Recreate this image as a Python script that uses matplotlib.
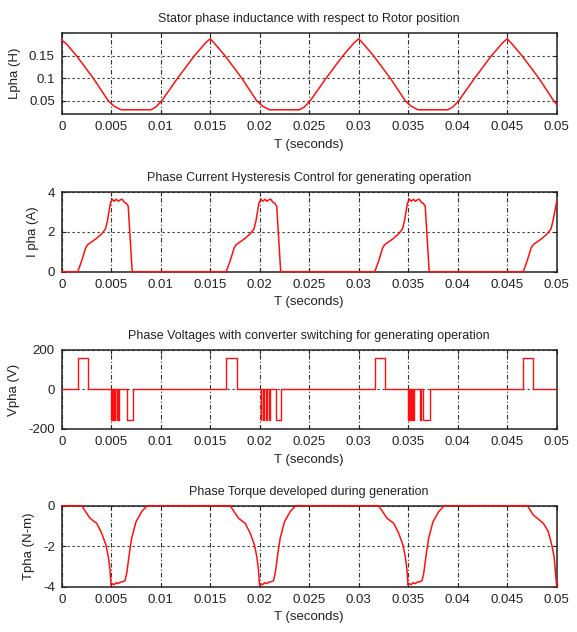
import matplotlib
matplotlib.use("Agg")
import matplotlib.pyplot as plt

plt.rcParams['font.family'] = ['Liberation Sans Narrow', 'Liberation Sans', 'DejaVu Sans']
plt.rcParams['axes.unicode_minus'] = False

# ---------------- data ----------------
xticks = [0, 0.005, 0.01, 0.015, 0.02, 0.025, 0.03, 0.035, 0.04, 0.045, 0.05]
xticklabels = ["0", "0.005", "0.01", "0.015", "0.02", "0.025", "0.03", "0.035", "0.04", "0.045", "0.05"]

titles = ["Stator phase inductance with respect to Rotor position",
          "Phase Current Hysteresis Control for generating operation",
          "Phase Voltages with converter switching for generating operation",
          "Phase Torque developed during generation"]
ylabels = ["Lpha (H)", "I pha (A)", "Vpha (V)", "Tpha (N-m)"]
xlabel = "T (seconds)"

# inductance
L_t = [0.0, 0.0005, 0.0015, 0.0032, 0.0047, 0.0053, 0.006, 0.009, 0.0095, 0.0101, 0.0117, 0.0134, 0.0145, 0.015,
       0.0155, 0.0165, 0.0182, 0.0197, 0.0203, 0.021, 0.024, 0.0245, 0.0251, 0.0267, 0.0284, 0.0295, 0.030,
       0.0305, 0.0315, 0.0332, 0.0347, 0.0353, 0.036, 0.039, 0.0395, 0.0401, 0.0417, 0.0434, 0.0445, 0.045,
       0.0455, 0.0465, 0.0482, 0.0497, 0.05]
L_v = [0.185, 0.176, 0.150, 0.100, 0.050, 0.038, 0.030, 0.030, 0.036, 0.050, 0.100, 0.150, 0.178, 0.188,
       0.176, 0.150, 0.100, 0.050, 0.038, 0.030, 0.030, 0.036, 0.050, 0.100, 0.150, 0.178, 0.188,
       0.176, 0.150, 0.100, 0.050, 0.038, 0.030, 0.030, 0.036, 0.050, 0.100, 0.150, 0.178, 0.188,
       0.176, 0.150, 0.100, 0.050, 0.042]
L_yticks = [0.05, 0.1, 0.15]
L_ylim = [0.02, 0.2]

# current
I_t = [0.0,
       0.00162, 0.00202, 0.00242, 0.00262, 0.00302, 0.00352, 0.00402, 0.00442, 0.00462, 0.00492,
       0.00512, 0.00532, 0.00552, 0.00572, 0.00592, 0.00612, 0.00632, 0.00652, 0.00672, 0.00712,
       0.01662, 0.01702, 0.01742, 0.01762, 0.01802, 0.01852, 0.01902, 0.01942, 0.01962, 0.01992,
       0.02012, 0.02032, 0.02052, 0.02072, 0.02092, 0.02112, 0.02132, 0.02152, 0.02172, 0.02212,
       0.03162, 0.03202, 0.03242, 0.03262, 0.03302, 0.03352, 0.03402, 0.03442, 0.03462, 0.03492,
       0.03512, 0.03532, 0.03552, 0.03572, 0.03592, 0.03612, 0.03632, 0.03652, 0.03672, 0.03712,
       0.04662, 0.04702, 0.04742, 0.04762, 0.04802, 0.04852, 0.04902, 0.04942, 0.04962, 0.05]
I_v = [0.0,
       0, 0.55, 1.2, 1.36, 1.5, 1.68, 1.9, 2.15, 2.55, 3.45,
       3.65, 3.55, 3.65, 3.55, 3.62, 3.65, 3.5, 3.45, 3.3, 0,
       0, 0.55, 1.2, 1.36, 1.5, 1.68, 1.9, 2.15, 2.55, 3.45,
       3.65, 3.55, 3.65, 3.55, 3.62, 3.65, 3.5, 3.45, 3.3, 0,
       0, 0.55, 1.2, 1.36, 1.5, 1.68, 1.9, 2.15, 2.55, 3.45,
       3.65, 3.55, 3.65, 3.55, 3.62, 3.65, 3.5, 3.45, 3.3, 0,
       0, 0.55, 1.2, 1.36, 1.5, 1.68, 1.9, 2.15, 2.55, 3.55]
I_yticks = [0, 2, 4]
I_ylim = [0, 4]

# voltage (step changes)
V_t = [0.0, 0.00164, 0.00268,
       0.00500, 0.00510, 0.00515, 0.00525, 0.00530, 0.00540, 0.00555, 0.00560, 0.00570, 0.00575,
       0.00663, 0.00717,
       0.01664, 0.01768,
       0.02010, 0.02018, 0.02035, 0.02042, 0.02065, 0.02072, 0.02095, 0.02102, 0.02160, 0.02220,
       0.03160, 0.03263,
       0.03500, 0.03508, 0.03515, 0.03522, 0.03530, 0.03537, 0.03550, 0.03556, 0.03622, 0.03628,
       0.03650, 0.03720,
       0.04663, 0.04758, 0.05]
V_v = [0, 160, 0,
       -155, 0, -155, 0, -155, 0, -155, 0, -155, 0,
       -155, 0,
       160, 0,
       -155, 0, -155, 0, -155, 0, -155, 0, -155, 0,
       160, 0,
       -155, 0, -155, 0, -155, 0, -155, 0, -155, 0,
       -155, 0,
       160, 0, 0]
V_yticks = [-200, 0, 200]
V_ylim = [-200, 200]

# torque
T_t = [0.0,
       0.00202, 0.00286, 0.00354, 0.00404, 0.00447, 0.00471, 0.00488, 0.00498, 0.0051, 0.0053, 0.0055,
       0.0057, 0.0059, 0.0062, 0.0064, 0.00658, 0.00685, 0.00707, 0.0075, 0.00807, 0.00863,
       0.01702, 0.01786, 0.01854, 0.01904, 0.01947, 0.01971, 0.01988, 0.01998, 0.0201, 0.0203, 0.0205,
       0.0207, 0.0209, 0.0212, 0.0214, 0.02158, 0.02185, 0.02207, 0.0225, 0.02307, 0.02363,
       0.03202, 0.03286, 0.03354, 0.03404, 0.03447, 0.03471, 0.03488, 0.03498, 0.0351, 0.0353, 0.0355,
       0.0357, 0.0359, 0.0362, 0.0364, 0.03658, 0.03685, 0.03707, 0.0375, 0.03807, 0.03863,
       0.04704, 0.04764, 0.04865, 0.04915, 0.0495, 0.04973, 0.0499, 0.05]
T_v = [0.0,
       0, -0.62, -0.87, -1.36, -1.94, -2.52, -3.17, -3.92, -3.85, -3.9, -3.8,
       -3.85, -3.78, -3.75, -3.7, -3.3, -2.3, -1.6, -0.8, -0.3, 0,
       0, -0.62, -0.87, -1.36, -1.94, -2.52, -3.17, -3.92, -3.85, -3.9, -3.8,
       -3.85, -3.78, -3.75, -3.7, -3.3, -2.3, -1.6, -0.8, -0.3, 0,
       0, -0.62, -0.87, -1.36, -1.94, -2.52, -3.17, -3.92, -3.85, -3.9, -3.8,
       -3.85, -3.78, -3.75, -3.7, -3.3, -2.3, -1.6, -0.8, -0.3, 0,
       0, -0.46, -0.87, -1.28, -1.94, -2.5, -3.44, -4.0]
T_yticks = [-4, -2, 0]
T_ylim = [-4, 0]

# ---------------- figure ----------------
W, H = 577, 632
fig = plt.figure(figsize=(W / 100, H / 100), dpi=100)
left, right = 61.7, 556.7
boxes = [(33.3, 114.3), (192.3, 271.7), (350.0, 429.0), (505.7, 586.7)]

series = [(L_t, L_v, L_yticks, L_ylim, "line"),
          (I_t, I_v, I_yticks, I_ylim, "line"),
          (V_t, V_v, V_yticks, V_ylim, "step"),
          (T_t, T_v, T_yticks, T_ylim, "line")]

fs_tick = 9.5
fs_lab = 9.5
fs_title = 9

for (top, bot), (t, v, yt, yl, kind), title, ylab in zip(boxes, series, titles, ylabels):
    ax = fig.add_axes([left / W, 1 - bot / H, (right - left) / W, (bot - top) / H])
    ax.set_xlim(0, 0.05)
    ax.set_ylim(*yl)
    ax.set_xticks(xticks)
    ax.set_xticklabels(xticklabels)
    ax.set_yticks(yt)
    ax.set_yticklabels([f"{y:g}" for y in yt])
    ax.tick_params(direction="in", length=3, width=0.8, labelsize=fs_tick, pad=5,
                   top=True, right=True, colors="#222222")
    ax.xaxis.grid(True, color="#333333", lw=0.8, linestyle=(0, (4, 2, 1, 2)))
    ax.yaxis.grid(True, color="#333333", lw=0.8, linestyle=(0, (2, 2.5)))
    ax.set_axisbelow(True)
    for s in ax.spines.values():
        s.set_linewidth(1.1)
        s.set_color("#222222")
        s.set_zorder(2)
    if kind == "step":
        ax.step(t, v, where="post", color="#ff1010", lw=1.0, zorder=5)
    else:
        ax.plot(t, v, color="#ff1010", lw=1.1, zorder=5, clip_on=False)
    ax.set_title(title, fontsize=fs_title, pad=8, color="#222222")
    ax.set_xlabel(xlabel, fontsize=fs_lab, labelpad=4, color="#222222")
    ax.set_ylabel(ylab, fontsize=fs_lab, labelpad=6, color="#222222")

fig.savefig("out.png", dpi=100)
